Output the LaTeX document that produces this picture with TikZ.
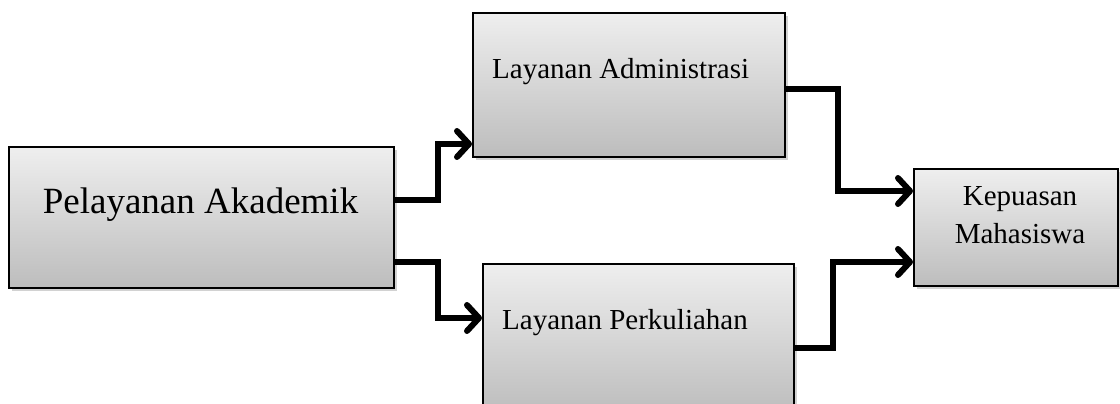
\documentclass[tikz,border=0pt]{standalone}
\usepackage{fontspec}
\setmainfont{Liberation Serif}
\usetikzlibrary{arrows.meta,shadows}
\begin{document}
\begin{tikzpicture}[x=1pt,y=-1pt,
  box/.style={draw=black, line width=2pt, top color=gray!13, bottom color=gray!52,
    inner sep=0pt, anchor=north west,
    drop shadow={shadow xshift=3pt, shadow yshift=-3pt, opacity=0.35}},
  conn/.style={line width=6pt, line join=miter,
    -{Straight Barb[length=12pt,width=26pt,round]}},
  lbl/.style={font=\fontsize{29}{38}\selectfont, inner sep=0pt}]
\useasboundingbox[fill=white] (0,0) rectangle (1120,404);
% boxes
\node[box, minimum width=385pt, minimum height=141pt] (pa) at (8,146) {};
\node[box, minimum width=312pt, minimum height=144pt] (la) at (472,12) {};
\node[box, minimum width=311pt, minimum height=150pt] (lp) at (482,263) {};
\node[box, minimum width=204pt, minimum height=117pt] (kp) at (913,168) {};
% texts
\node[lbl, font=\fontsize{37}{44}\selectfont, anchor=base] (pat) at (200.5,213) {Pelayanan Akademik};
\node[lbl, anchor=base west] (lat) at (492,79) {Layanan Administrasi};
\node[lbl, anchor=base west] (lpt) at (502,329) {Layanan Perkuliahan};
\node[lbl, anchor=base] (kpt) at (1020,205) {\begin{tabular}[t]{@{}c@{}}Kepuasan\\Mahasiswa\end{tabular}};
% connectors
\draw[conn] ([yshift=-54pt]pa.north east) -- ++(43,0) |- ([yshift=-132pt]la.north west);
\draw[conn] ([yshift=-116pt]pa.north east) -- ++(43,0) |- ([yshift=-55pt]lp.north west);
\draw[conn] ([yshift=-77pt]la.north east) -- ++(52,0) |- ([yshift=-23pt]kp.north west);
\draw[conn] ([yshift=-85pt]lp.north east) -- ++(38,0) |- ([yshift=-94pt]kp.north west);
\end{tikzpicture}
\end{document}
